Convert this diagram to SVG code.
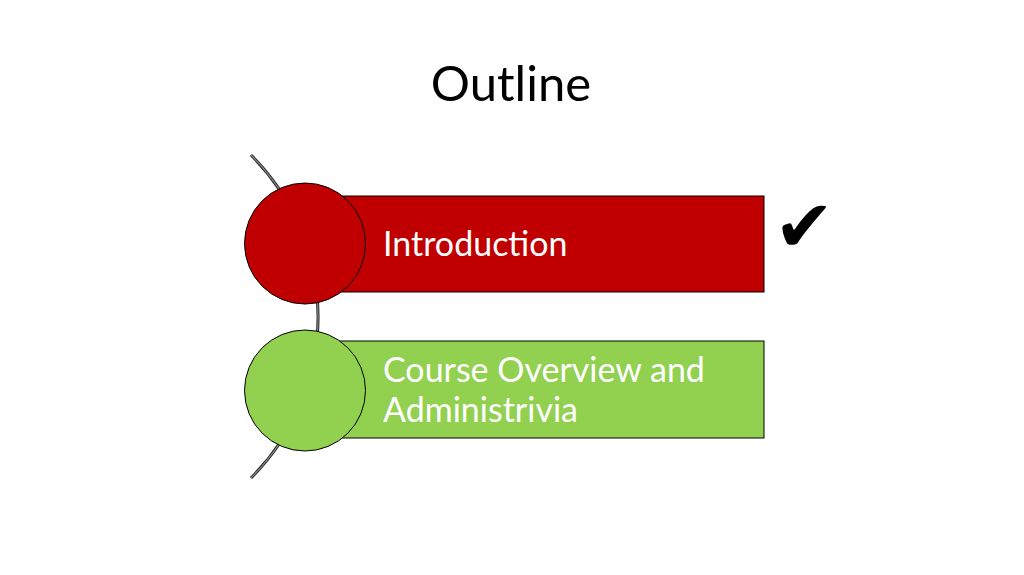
<svg xmlns="http://www.w3.org/2000/svg" width="1024" height="575" viewBox="0 0 1024 575">
<style>
.t{font-family:Lato,"Open Sans","Liberation Sans",sans-serif;fill:#ffffff;font-size:34px}
.title{font-family:Lato,"Open Sans","Liberation Sans",sans-serif;fill:#000;font-size:49px}
.sh{stroke:#000;stroke-width:1}
.arcO{fill:none;stroke:#222;stroke-width:3}
.arcI{fill:none;stroke:#8a8a8a;stroke-width:1.2}
</style>
<rect width="1024" height="575" fill="#fff"/>
<text class="title" x="511" y="101" text-anchor="middle">Outline</text>
<g id="connectors">
<path class="arcO" d="M251,155 A228,228 0 0 1 251,478"/>
<path class="arcI" d="M251,155 A228,228 0 0 1 251,478"/>
</g>
<g id="node-introduction">
<rect class="sh" x="305" y="196" width="459" height="96" fill="#C00000"/>
<circle class="sh" cx="305" cy="243.5" r="60.5" fill="#C00000"/>
<text class="t" x="383" y="256">Introduction</text>
</g>
<g id="node-course">
<rect class="sh" x="305" y="341" width="459" height="97" fill="#92D050"/>
<circle class="sh" cx="305" cy="390.5" r="60.5" fill="#92D050"/>
<text class="t" x="383" y="382">Course Overview and</text>
<text class="t" x="383" y="422">Administrivia</text>
</g>
<g id="check">
<text x="774" y="251" font-family="DejaVu Sans,sans-serif" font-size="72" fill="#000">✔</text>
</g>
</svg>
